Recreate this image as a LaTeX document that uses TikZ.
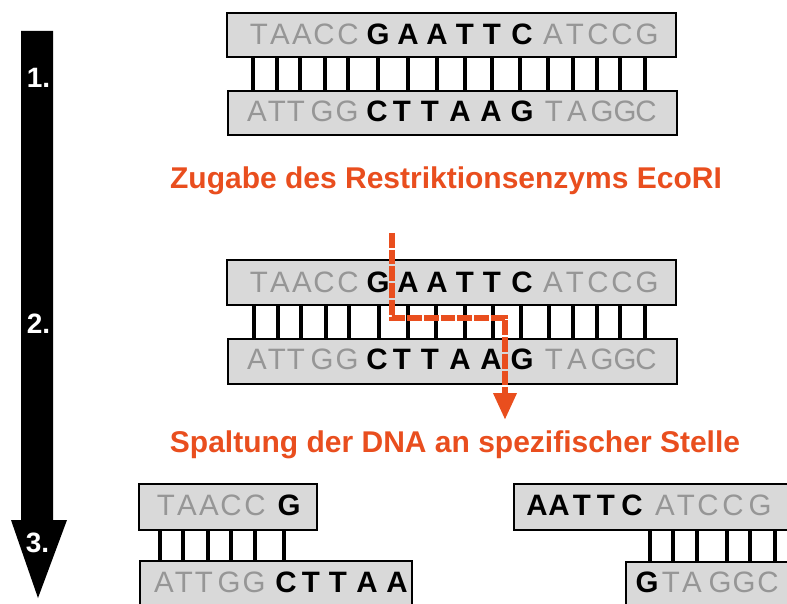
\documentclass[tikz,border=0pt]{standalone}
\usepackage{fontspec}
\setmainfont{Liberation Sans}
\usetikzlibrary{arrows.meta}
\definecolor{enzred}{RGB}{233,78,30}
\definecolor{strandfill}{RGB}{217,217,217}
\definecolor{basegray}{RGB}{150,150,150}

% place one row of bases: list of x/letter/style
\newcommand{\baserow}[3]{%
  \foreach \bx/\bl/\bs [count=\bi] in {#3}
    \node[\bs] (#1-\bi) at (\bx,#2) {\bl};}
% rungs between two strands
\newcommand{\rungs}[3]{%
  \foreach \rx in {#3} \draw[rung] (\rx,#1) -- (\rx,#2);}

\begin{document}
\begin{tikzpicture}[x=1pt,y=-1pt,
  strand/.style={draw=black, line width=2.4pt, fill=strandfill},
  rung/.style={line width=4.6pt},
  nb/.style={anchor=base, inner sep=0pt, font=\fontsize{29.5}{30}\selectfont, text=basegray},
  cb/.style={anchor=base, inner sep=0pt, font=\fontsize{29.5}{30}\selectfont\bfseries, text=black},
  stepnum/.style={anchor=base, inner sep=0pt, font=\fontsize{28}{28}\selectfont\bfseries, text=white},
  caption/.style={anchor=base, inner sep=0pt, font=\fontsize{30}{30}\selectfont\bfseries, text=enzred},
  cutline/.style={draw=enzred, line width=6.5pt, dash pattern=on 14.7pt off 2pt,
    -{Triangle[width=22pt,length=27pt]}}]
\useasboundingbox (0,0) rectangle (787,604);
\clip (0,0) rectangle (787,604);

% time arrow
\fill[black] (21,31) -- (53,31) -- (53,520) -- (67,520) -- (38,598) -- (11,520) -- (21,520) -- cycle;
\node[stepnum] (n1) at (38.5,88) {1.};
\node[stepnum] (n2) at (38.5,333) {2.};
\node[stepnum] (n3) at (37.5,552) {3.};

% ---- step 1: intact double strand
\rungs{57}{91}{253,277,300,325,348,378,408,437,465,492,520,548,573,597,620,645}
\draw[strand] (227,13) rectangle (676,57);
\draw[strand] (228,91) rectangle (677,135);
\baserow{a}{45}{259/T/nb,280/A/nb,302/A/nb,324/C/nb,348/C/nb,378/G/cb,408/A/cb,437/A/cb,465/T/cb,492/T/cb,522/C/cb,553/A/nb,575/T/nb,598/C/nb,622/C/nb,647/G/nb}
\baserow{b}{122}{257/A/nb,277/T/nb,296/T/nb,322/G/nb,347/G/nb,377/C/cb,402/T/cb,430/T/cb,460/A/cb,491/A/cb,522/G/cb,554/T/nb,577/A/nb,602/G/nb,625/G/nb,646/C/nb}

\node[caption] (add) at (446,189) {Zugabe des Restriktionsenzyms EcoRI};

% ---- step 2: cut site
\rungs{305}{339}{254,278,301,326,349,379,408,436,465,493,521,549,573,597,620,645}
\draw[strand] (227,260) rectangle (676,305);
\draw[strand] (228,339) rectangle (677,384);
\baserow{c}{292}{259/T/nb,280/A/nb,302/A/nb,324/C/nb,348/C/nb,378/G/cb,408/A/cb,437/A/cb,465/T/cb,492/T/cb,522/C/cb,553/A/nb,575/T/nb,598/C/nb,622/C/nb,647/G/nb}
\baserow{d}{369}{257/A/nb,277/T/nb,296/T/nb,322/G/nb,347/G/nb,377/C/cb,402/T/cb,430/T/cb,460/A/cb,491/A/cb,522/G/cb,554/T/nb,577/A/nb,602/G/nb,625/G/nb,646/C/nb}

\coordinate (cutA) at (392,233);
\coordinate (cutB) at (392,318);
\coordinate (cutC) at (505,318);
\coordinate (cutD) at (505,420);
\draw[cutline] (cutA) -- (cutB) -- (cutC) -- (cutD);

\node[caption] (split) at (455,452) {Spaltung der DNA an spezifischer Stelle};

% ---- step 3: two fragments with sticky ends
\rungs{530}{561}{160,183,208,231,255,284}
\draw[strand] (139,484) rectangle (317,530);
\draw[strand] (140,561) rectangle (412,630);
\baserow{e}{515}{166/T/nb,187/A/nb,209/A/nb,231/C/nb,255/C/nb,289/G/cb}
\baserow{f}{592}{164/A/nb,184/T/nb,204/T/nb,229/G/nb,254/G/nb,286/C/cb,311/T/cb,338/T/cb,367/A/cb,397/A/cb}

\rungs{530}{562}{650,673,697,727,750,775}
\draw[strand] (514,484) rectangle (800,530);
\draw[strand] (626,562) rectangle (800,630);
\baserow{g}{515}{537/A/cb,559/A/cb,582/T/cb,606/T/cb,632/C/cb,665/A/nb,686/T/nb,708/C/nb,733/C/nb,760/G/nb}
\baserow{h}{592}{647/G/cb,671/T/nb,692/A/nb,720/G/nb,744/G/nb,768/C/nb}
\end{tikzpicture}
\end{document}
